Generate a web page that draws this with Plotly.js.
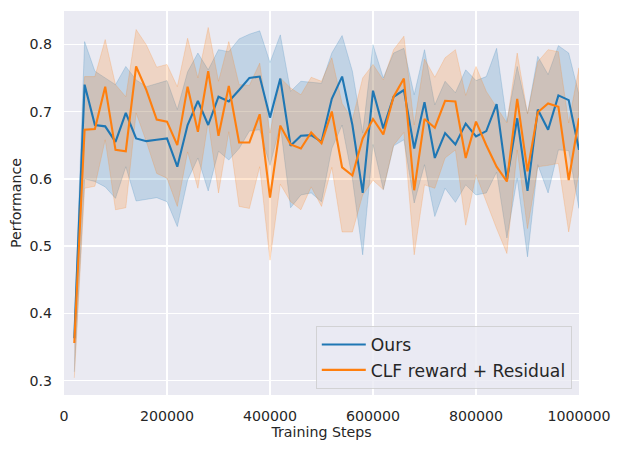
<!DOCTYPE html>
<html>
<head>
<meta charset="utf-8">
<script src="https://cdn.plot.ly/plotly-3.0.1.min.js"></script>
<style>
  html, body { margin: 0; padding: 0; background: #ffffff; }
  #chart { width: 623px; height: 450px; }
</style>
</head>
<body>
<div id="chart"></div>
<script>
// Training steps (x), one sample every 20k steps
const steps = [
  20000, 40000, 60000, 80000, 100000, 120000, 140000, 160000, 180000, 200000,
  220000, 240000, 260000, 280000, 300000, 320000, 340000, 360000, 380000, 400000,
  420000, 440000, 460000, 480000, 500000, 520000, 540000, 560000, 580000, 600000,
  620000, 640000, 660000, 680000, 700000, 720000, 740000, 760000, 780000, 800000,
  820000, 840000, 860000, 880000, 900000, 920000, 940000, 960000, 980000, 1000000
];

// "Ours": mean and band edges
const oursMean = [
  0.363, 0.740, 0.680, 0.678, 0.655, 0.698, 0.660, 0.656, 0.658, 0.660,
  0.618, 0.680, 0.716, 0.680, 0.722, 0.715, 0.732, 0.750, 0.752, 0.691,
  0.749, 0.649, 0.664, 0.665, 0.655, 0.719, 0.752, 0.680, 0.579, 0.731,
  0.675, 0.722, 0.732, 0.645, 0.714, 0.631, 0.668, 0.651, 0.682, 0.663,
  0.671, 0.711, 0.598, 0.690, 0.582, 0.703, 0.673, 0.724, 0.717, 0.643
];
const oursLow = [
  0.313, 0.600, 0.596, 0.588, 0.571, 0.618, 0.567, 0.569, 0.572, 0.566,
  0.529, 0.598, 0.631, 0.582, 0.641, 0.628, 0.645, 0.671, 0.673, 0.620,
  0.680, 0.557, 0.576, 0.579, 0.566, 0.645, 0.680, 0.600, 0.487, 0.651,
  0.584, 0.649, 0.658, 0.564, 0.621, 0.544, 0.586, 0.565, 0.591, 0.576,
  0.579, 0.610, 0.512, 0.601, 0.484, 0.621, 0.579, 0.643, 0.642, 0.556
];
const oursHigh = [
  0.378, 0.804, 0.760, 0.750, 0.740, 0.767, 0.747, 0.737, 0.741, 0.746,
  0.703, 0.759, 0.787, 0.762, 0.792, 0.789, 0.808, 0.815, 0.820, 0.773,
  0.814, 0.730, 0.745, 0.744, 0.742, 0.787, 0.813, 0.760, 0.668, 0.799,
  0.750, 0.787, 0.794, 0.725, 0.792, 0.710, 0.745, 0.728, 0.762, 0.746,
  0.752, 0.794, 0.685, 0.767, 0.697, 0.782, 0.755, 0.798, 0.787, 0.725
];

// "CLF reward + Residual": mean and band edges
const clfMean = [
  0.356, 0.673, 0.674, 0.737, 0.643, 0.641, 0.767, 0.732, 0.688, 0.685,
  0.650, 0.737, 0.670, 0.760, 0.664, 0.738, 0.654, 0.654, 0.696, 0.572,
  0.679, 0.651, 0.645, 0.669, 0.653, 0.700, 0.617, 0.605, 0.660, 0.689,
  0.666, 0.722, 0.749, 0.583, 0.689, 0.676, 0.716, 0.715, 0.631, 0.685,
  0.650, 0.618, 0.596, 0.719, 0.611, 0.699, 0.712, 0.707, 0.598, 0.690
];
const clfLow = [
  0.304, 0.586, 0.589, 0.658, 0.554, 0.557, 0.698, 0.655, 0.608, 0.601,
  0.559, 0.640, 0.586, 0.685, 0.579, 0.670, 0.559, 0.556, 0.618, 0.479,
  0.592, 0.566, 0.554, 0.588, 0.559, 0.617, 0.521, 0.521, 0.576, 0.598,
  0.584, 0.650, 0.669, 0.487, 0.591, 0.586, 0.631, 0.643, 0.531, 0.606,
  0.566, 0.526, 0.489, 0.643, 0.526, 0.618, 0.620, 0.623, 0.521, 0.611
];
const clfHigh = [
  0.370, 0.752, 0.752, 0.807, 0.740, 0.722, 0.822, 0.799, 0.766, 0.770,
  0.737, 0.809, 0.750, 0.825, 0.745, 0.804, 0.740, 0.739, 0.772, 0.668,
  0.750, 0.735, 0.725, 0.751, 0.745, 0.780, 0.712, 0.688, 0.750, 0.770,
  0.747, 0.792, 0.812, 0.680, 0.778, 0.751, 0.780, 0.792, 0.724, 0.767,
  0.730, 0.707, 0.683, 0.787, 0.697, 0.774, 0.792, 0.789, 0.683, 0.765
];

const xTicks = [0, 200000, 400000, 600000, 800000, 1000000];
const xTickText = ['0', '200000', '400000', '600000', '800000', '1000000'];
const yTicks = [0.3, 0.4, 0.5, 0.6, 0.7, 0.8];

const BLUE = '#1f77b4';
const ORANGE = '#ff7f0e';
const TEXT = '#262626';
const FONT = 'DejaVu Sans, sans-serif';

// closed polygon: upper edge forward, lower edge back
function band(lo, hi, rgb) {
  return {
    x: steps.concat(steps.slice().reverse()),
    y: hi.concat(lo.slice().reverse()),
    type: 'scatter',
    mode: 'lines',
    fill: 'toself',
    fillcolor: 'rgba(' + rgb + ',0.2)',
    line: { color: 'rgba(' + rgb + ',0.2)', width: 1 },
    hoverinfo: 'skip',
    showlegend: false
  };
}

function meanLine(y, name, color) {
  return {
    x: steps,
    y: y,
    name: name,
    type: 'scatter',
    mode: 'lines',
    line: { color: color, width: 2.1 }
  };
}

const traces = [
  band(oursLow, oursHigh, '31,119,180'),
  band(clfLow, clfHigh, '255,127,14'),
  meanLine(oursMean, 'Ours', BLUE),
  meanLine(clfMean, 'CLF reward + Residual', ORANGE)
];

const layout = {
  width: 623,
  height: 450,
  margin: { l: 64, r: 44, t: 11, b: 55, pad: 0 },
  paper_bgcolor: '#ffffff',
  plot_bgcolor: '#EAEAF2',
  font: { family: FONT, size: 14.2, color: TEXT },
  showlegend: true,
  legend: {
    x: 0.986, xanchor: 'right',
    y: 0.016, yanchor: 'bottom',
    bgcolor: 'rgba(234,234,242,0.8)',
    bordercolor: 'rgba(204,204,204,0.8)',
    borderwidth: 1,
    font: { family: FONT, size: 17.2, color: TEXT },
    itemwidth: 44,
    tracegroupgap: 0
  },
  xaxis: {
    range: [0, 1000000],
    tickvals: xTicks,
    ticktext: xTickText,
    showgrid: true,
    gridcolor: '#ffffff',
    gridwidth: 1.4,
    zeroline: false,
    showline: false,
    ticks: 'outside',
    ticklen: 8,
    tickcolor: 'rgba(0,0,0,0)',
    automargin: false,
    title: { text: 'Training Steps', font: { family: FONT, size: 14.2, color: TEXT }, standoff: 3 }
  },
  yaxis: {
    range: [0.2786, 0.8495],
    tickvals: yTicks,
    tickformat: '.1f',
    showgrid: true,
    gridcolor: '#ffffff',
    gridwidth: 1.4,
    zeroline: false,
    showline: false,
    ticks: 'outside',
    ticklen: 8,
    tickcolor: 'rgba(0,0,0,0)',
    automargin: false,
    title: { text: 'Performance', font: { family: FONT, size: 14.2, color: TEXT }, standoff: 4 }
  }
};

Plotly.newPlot('chart', traces, layout, { displayModeBar: false, staticPlot: true });
</script>
</body>
</html>
